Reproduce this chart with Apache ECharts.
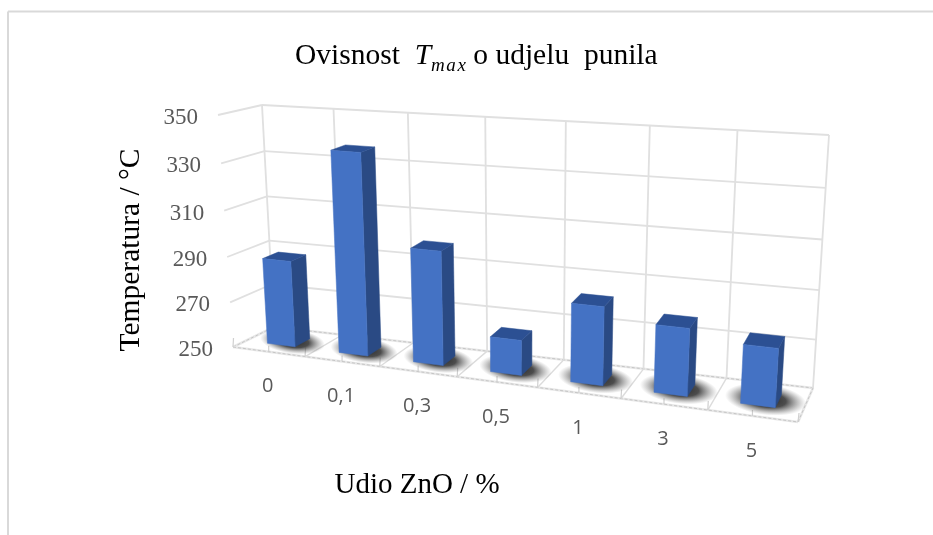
<!DOCTYPE html>
<html><head><meta charset="utf-8">
<style>html,body{margin:0;padding:0;background:#fff}#c{width:933px;height:535px}</style>
<script src="https://cdn.jsdelivr.net/npm/echarts@6/dist/echarts.min.js"></script>
</head><body><div id="c"></div>
<script>
const categories = ['0','0,1','0,3','0,5','1','3','5'];
const values = [288, 337, 299, 265, 283, 278, 274];
const yTicks = [250,270,290,310,330,350];

// Perspective view of the chart box: unit square -> screen quads
const frontQuad = [[233,347],[798,422],[814,160],[218,115]];
const backQuad  = [[274,327],[813,388],[829,135],[262,105]];
const BAR_W = 0.39, BAR_D0 = 0.32, BAR_D1 = 0.70;

function homography(q){
  const [x0,y0]=q[0],[x1,y1]=q[1],[x2,y2]=q[2],[x3,y3]=q[3];
  const dx1=x1-x2,dx2=x3-x2,sx=x0-x1+x2-x3,dy1=y1-y2,dy2=y3-y2,sy=y0-y1+y2-y3;
  const den=dx1*dy2-dx2*dy1,g=(sx*dy2-dx2*sy)/den,h=(dx1*sy-sx*dy1)/den;
  const a=x1-x0+g*x1,b=x3-x0+h*x3,d=y1-y0+g*y1,e=y3-y0+h*y3;
  return (u,v)=>{const w=g*u+h*v+1;return [(a*u+b*v+x0)/w,(d*u+e*v+y0)/w];};
}
const hFront=homography(frontQuad), hBack=homography(backQuad);
// library pixel (from the hidden cartesian axes) + depth -> view pixel
function view(px,py,depth,cs){
  const u=(px-cs.x)/cs.width, v=(cs.y+cs.height-py)/cs.height;
  const f=hFront(u,v), b=hBack(u,v);
  return [f[0]+(b[0]-f[0])*depth, f[1]+(b[1]-f[1])*depth];
}
const WALL='#e0e0e0', FLOOR='#d0d0d0';
const line=(a,b,stroke,w,dash)=>({type:'line',silent:true,
  shape:{x1:a[0],y1:a[1],x2:b[0],y2:b[1]},
  style:{stroke,lineWidth:w,lineDash:dash||null,fill:null}});
const poly=(pts,fill)=>({type:'polygon',silent:true,shape:{points:pts},style:{fill,stroke:fill,lineWidth:0.5}});
const floorEdge=(a,b)=>[line(a,b,'#e8e8e8',2.6),line(a,b,'#c6c6c6',1,[3,2])];

function renderHoriz(params,api){
  const cs=params.coordSys, y=api.coord([0,api.value(0)])[1];
  const xl=cs.x, xr=cs.x+cs.width, isFloor=api.value(0)===yTicks[0];
  const fl=view(xl,y,0,cs), bl=view(xl,y,1,cs), br=view(xr,y,1,cs), fr=view(xr,y,0,cs);
  let kids=[];
  if(isFloor){
    kids=kids.concat(floorEdge(fl,bl),floorEdge(bl,br),floorEdge(fl,fr),floorEdge(fr,br));
  }else{
    kids.push(line(fl,bl,WALL,1.8),line(bl,br,WALL,1.8));
  }
  kids.push({type:'text',silent:true,style:{text:String(api.value(0)),x:fl[0]-20,y:fl[1]+3,align:'right',verticalAlign:'middle',
    font:'23px "Liberation Serif"',fill:'#595959'}});
  return {type:'group',children:kids};
}
function renderCat(params,api){
  const cs=params.coordSys, i=params.dataIndex;
  const c=api.coord([i,yTicks[0]]), band=api.size([1,0])[0], top=cs.y, bot=cs.y+cs.height;
  const edge=c[0]-band/2, kids=[];
  const wallB=view(edge,bot,1,cs), wallT=view(edge,top,1,cs), fl=view(edge,bot,0,cs);
  kids.push(line(wallB,wallT,WALL,1.8));
  if(i>0) kids.push(line(fl,wallB,'#dcdcdc',1.4));
  kids.push(line(fl,[fl[0]+0.5,fl[1]-9],FLOOR,1.2));
  const mid=view(c[0],bot,0,cs);
  kids.push(line(mid,[mid[0],mid[1]-6],FLOOR,1.2));
  if(i===categories.length-1){
    const e2=c[0]+band/2, wb=view(e2,bot,1,cs), wt=view(e2,top,1,cs), f2=view(e2,bot,0,cs);
    kids.push(line(wb,wt,WALL,1.8),line(f2,[f2[0]+1,f2[1]-9],FLOOR,1.2));
  }
  kids.push({type:'text',silent:true,style:{text:categories[i],x:mid[0]-1,y:mid[1]+35,align:'center',verticalAlign:'middle',
    font:'20px "Open Sans"',fill:'#595959'}});
  return {type:'group',children:kids};
}
function renderShadow(params,api){
  const cs=params.coordSys, i=params.dataIndex;
  const c=api.coord([i,yTicks[0]]), band=api.size([1,0])[0];
  const m=view(c[0]+band*0.05,c[1],0.52,cs), a=view(c[0]-band/2,c[1],0.5,cs), b=view(c[0]+band/2,c[1],0.5,cs);
  const bw=Math.hypot(b[0]-a[0],b[1]-a[1]);
  return {type:'circle',silent:true,
    shape:{cx:0,cy:0,r:bw*0.46},
    x:m[0],y:m[1],scaleX:1,scaleY:0.38,rotation:-Math.atan2(b[1]-a[1],b[0]-a[0]),
    style:{fill:{type:'radial',x:0.5,y:0.5,r:0.5,colorStops:[
      {offset:0,color:'rgba(25,25,25,0.95)'},{offset:0.5,color:'rgba(45,45,45,0.85)'},{offset:1,color:'rgba(120,120,120,0)'}]}}};
}
function renderBar(params,api){
  const cs=params.coordSys, i=api.value(0), val=api.value(1);
  const base=api.coord([i,yTicks[0]]), top=api.coord([i,val]), band=api.size([1,0])[0];
  const L=base[0]-band*BAR_W/2, R=base[0]+band*BAR_W/2;
  const P=(x,y,d)=>view(x,y,d,cs);
  const y0=base[1], y1=top[1];
  return {type:'group',children:[
    poly([P(R,y0,BAR_D0),P(R,y0,BAR_D1),P(R,y1,BAR_D1),P(R,y1,BAR_D0)],'#2a4a84'),
    poly([P(L,y1,BAR_D0),P(R,y1,BAR_D0),P(R,y1,BAR_D1),P(L,y1,BAR_D1)],'#2c5093'),
    poly([P(L,y0,BAR_D0),P(R,y0,BAR_D0),P(R,y1,BAR_D0),P(L,y1,BAR_D0)],'#4472c4')
  ]};
}

const chart=echarts.init(document.getElementById('c'),null,{renderer:'canvas'});
const serif='"Liberation Serif"';
chart.setOption({
  animation:false,
  backgroundColor:'#fff',
  title:{text:'{a|Ovisnost  }{t|T}{s|m\u200aa\u200ax}{a| o udjelu  punila}',left:290,top:32,
    textStyle:{fontWeight:'normal',rich:{
      a:{fontFamily:serif,fontSize:29.5,fontWeight:'normal',color:'#000',lineHeight:38},
      t:{fontFamily:serif,fontSize:29.5,fontWeight:'normal',fontStyle:'italic',color:'#000',lineHeight:38},
      s:{fontFamily:serif,fontSize:19,fontWeight:'normal',fontStyle:'italic',color:'#000',lineHeight:38,verticalAlign:'bottom'}
    }}},
  grid:{left:233,top:115,width:565,height:232},
  xAxis:{type:'category',data:categories,show:false},
  yAxis:{type:'value',min:250,max:350,interval:20,show:false},
  graphic:[
    {type:'line',shape:{x1:8,y1:11.5,x2:933,y2:11.5},style:{stroke:'#d9d9d9',lineWidth:2}},
    {type:'line',shape:{x1:8,y1:11.5,x2:8,y2:535},style:{stroke:'#d9d9d9',lineWidth:2}},
    {type:'text',x:131,y:250,rotation:Math.PI/2,style:{text:'Temperatura / °C',align:'center',verticalAlign:'middle',font:'29.5px '+serif,fill:'#000'}},
    {type:'text',x:417,y:485,style:{text:'Udio ZnO / %',align:'center',verticalAlign:'middle',font:'29px '+serif,fill:'#000'}}
  ],
  series:[
    {type:'custom',coordinateSystem:'cartesian2d',clip:false,z:1,renderItem:renderHoriz,data:yTicks.map(v=>[v]),encode:{y:0}},
    {type:'custom',coordinateSystem:'cartesian2d',clip:false,z:2,renderItem:renderCat,data:categories.map((c,i)=>[i])},
    {type:'custom',coordinateSystem:'cartesian2d',clip:false,z:3,renderItem:renderShadow,data:categories.map((c,i)=>[i])},
    {type:'custom',coordinateSystem:'cartesian2d',clip:false,z:4,renderItem:renderBar,data:values.map((v,i)=>[i,v]),encode:{x:0,y:1}}
  ]
});
</script></body></html>
